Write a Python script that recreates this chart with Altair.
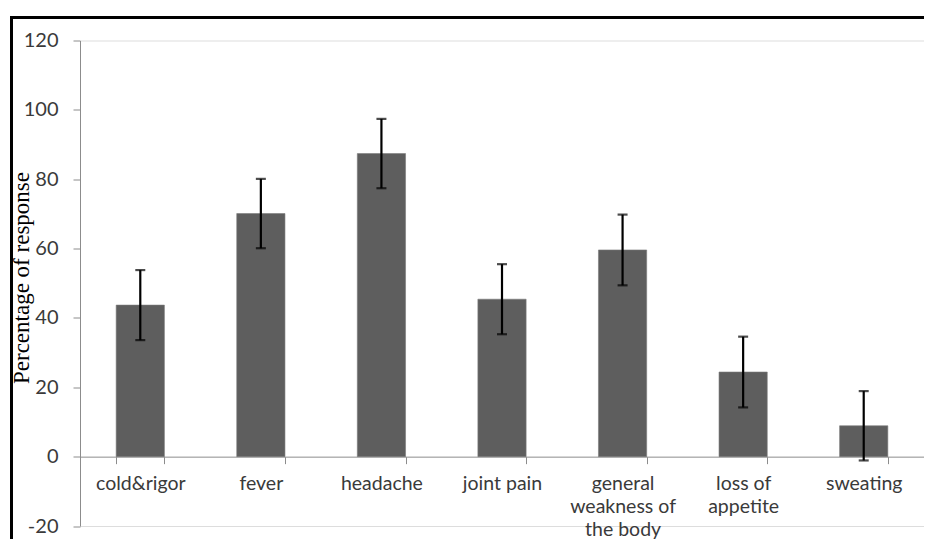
import altair as alt
import pandas as pd

categories = ["cold&rigor", "fever", "headache", "joint pain",
              "general|weakness of|the body", "loss of|appetite", "sweating"]
values = [43.7, 70.1, 87.4, 45.4, 59.6, 24.4, 8.9]
errors = [10.1, 10.0, 10.0, 10.1, 10.2, 10.2, 10.0]
y_ticks = [-20, 0, 20, 40, 60, 80, 100, 120]

df = pd.DataFrame({
    "cat": categories,
    "val": values,
    "lo": [v - e for v, e in zip(values, errors)],
    "hi": [v + e for v, e in zip(values, errors)],
})

W = 844
H = 485.5
label_color = "#3a3a3a"
axis_gray = "#8c8c8c"

xscale = alt.Scale(domain=categories, paddingInner=0.6, paddingOuter=0.3)
yscale = alt.Scale(domain=[-20, 120], nice=False, zero=False)

x_axis = alt.Axis(
    title=None, orient="bottom", offset=-(H * 20 / 140),
    domainColor=axis_gray, domainWidth=1, tickColor=axis_gray, tickSize=7,
    tickBand="extent", labelAngle=0, labelFont="Lato", labelFontSize=19.5,
    labelColor=label_color, labelBaseline="alphabetic", labelPadding=25.5,
    labelLineHeight=23, labelOverlap=False, labelLimit=0,
    labelExpr="split(datum.label, '|')",
)
y_axis = alt.Axis(
    values=y_ticks, grid=False, domainColor=axis_gray, domainWidth=1,
    tickColor=axis_gray, tickSize=7, labelFont="Lato", labelFontSize=20,
    labelColor=label_color, labelPadding=15, labelExpr="'' + datum.value",
    title="Percentage of response", titleFont="Liberation Serif",
    titleFontSize=23, titleFontWeight="normal", titleColor="black",
    titleAngle=270, titleX=-51.5, titleY=237, titleAlign="center",
    titleBaseline="alphabetic",
)

base = alt.Chart(df)

bars = base.mark_bar(color="#5e5e5e", stroke="#7a7a7a", strokeWidth=0.6).encode(
    x=alt.X("cat:N", sort=categories, scale=xscale, axis=x_axis),
    y=alt.Y("val:Q", scale=yscale, axis=y_axis),
    y2=alt.datum(0),
)

rules = base.mark_rule(color="black", strokeWidth=2.2).encode(
    x=alt.X("cat:N", sort=categories, scale=xscale),
    y=alt.Y("lo:Q", scale=yscale),
    y2="hi:Q",
)

caps_hi = base.mark_tick(color="black", size=10, thickness=2.2).encode(
    x=alt.X("cat:N", sort=categories, scale=xscale),
    y=alt.Y("hi:Q", scale=yscale),
)
caps_lo = base.mark_tick(color="black", size=10, thickness=2.2).encode(
    x=alt.X("cat:N", sort=categories, scale=xscale),
    y=alt.Y("lo:Q", scale=yscale),
)

frame_src = alt.Data(values=[{"f": 1}])
frame_top = alt.Chart(frame_src).mark_rect(color="black", strokeWidth=0).encode(
    x=alt.value(-70), x2=alt.value(W), y=alt.value(-24.5), y2=alt.value(-21.5),
)
frame_left = alt.Chart(frame_src).mark_rect(color="black", strokeWidth=0).encode(
    x=alt.value(-70), x2=alt.value(-67), y=alt.value(-24.5), y2=alt.value(H + 13),
)

chart = alt.layer(bars, rules, caps_hi, caps_lo, frame_top, frame_left).properties(
    width=W, height=H,
    autosize=alt.AutoSizeParams(type="none"),
    padding={"left": 72, "top": 32.5, "right": 0, "bottom": 13},
).configure_view(stroke=None).configure(background="white")

chart.save("out.html", embed_options={"renderer": "svg", "actions": False})
